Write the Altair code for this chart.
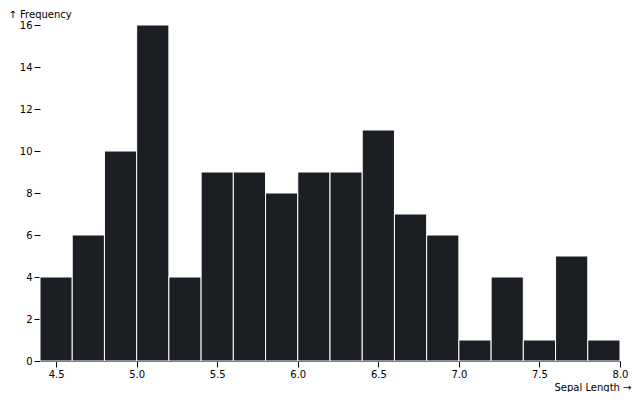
import altair as alt
import pandas as pd

bin_start = [4.4, 4.6, 4.8, 5.0, 5.2, 5.4, 5.6, 5.8, 6.0, 6.2, 6.4, 6.6, 6.8, 7.0, 7.2, 7.4, 7.6, 7.8]
bin_end = [4.6, 4.8, 5.0, 5.2, 5.4, 5.6, 5.8, 6.0, 6.2, 6.4, 6.6, 6.8, 7.0, 7.2, 7.4, 7.6, 7.8, 8.0]
counts = [4, 6, 10, 16, 4, 9, 9, 8, 9, 9, 11, 7, 6, 1, 4, 1, 5, 1]
x_ticks = [4.5, 5.0, 5.5, 6.0, 6.5, 7.0, 7.5, 8.0]
y_ticks = [0, 2, 4, 6, 8, 10, 12, 14, 16]

df = pd.DataFrame({"start": bin_start, "end": bin_end, "count": counts})

FONT = "DejaVu Sans"
W, H = 580, 336

chart = alt.Chart(df).mark_rect(
    fill="#1b1e23", stroke="white", strokeWidth=1
).encode(
    x=alt.X("start:Q",
            scale=alt.Scale(domain=[4.4, 8.0], nice=False, zero=False),
            axis=alt.Axis(
                values=x_ticks,
                format=".1f",
                title="Sepal Length →",
                titleAnchor="end", titleAlign="right", titleBaseline="alphabetic",
                titleX=W + 11, titleY=29,
                titleFontWeight="normal", titleFontSize=10, titleFont=FONT,
                titleColor="black",
                labelFont=FONT, labelFontSize=10, labelColor="black",
                labelPadding=2, tickSize=6, tickColor="black",
                domainColor="black", grid=False, labelFlush=False,
            )),
    x2="end:Q",
    y=alt.Y("count:Q",
            scale=alt.Scale(domain=[0, 16], nice=False),
            axis=alt.Axis(
                values=y_ticks,
                title="↑ Frequency",
                titleAngle=0, titleAlign="left", titleBaseline="alphabetic",
                titleX=-32, titleY=-8,
                titleFontWeight="normal", titleFontSize=10, titleFont=FONT,
                titleColor="black",
                labelFont=FONT, labelFontSize=10, labelColor="black",
                labelPadding=2, tickSize=6, tickColor="black",
                domain=False, grid=False,
            )),
    y2=alt.datum(0),
).properties(
    width=W, height=H,
    autosize=alt.AutoSizeParams(type="none"),
    padding={"left": 32, "top": 17, "right": 12, "bottom": 31},
).configure_view(stroke=None)

chart.save("out.html", embed_options={"renderer": "svg", "actions": False})
